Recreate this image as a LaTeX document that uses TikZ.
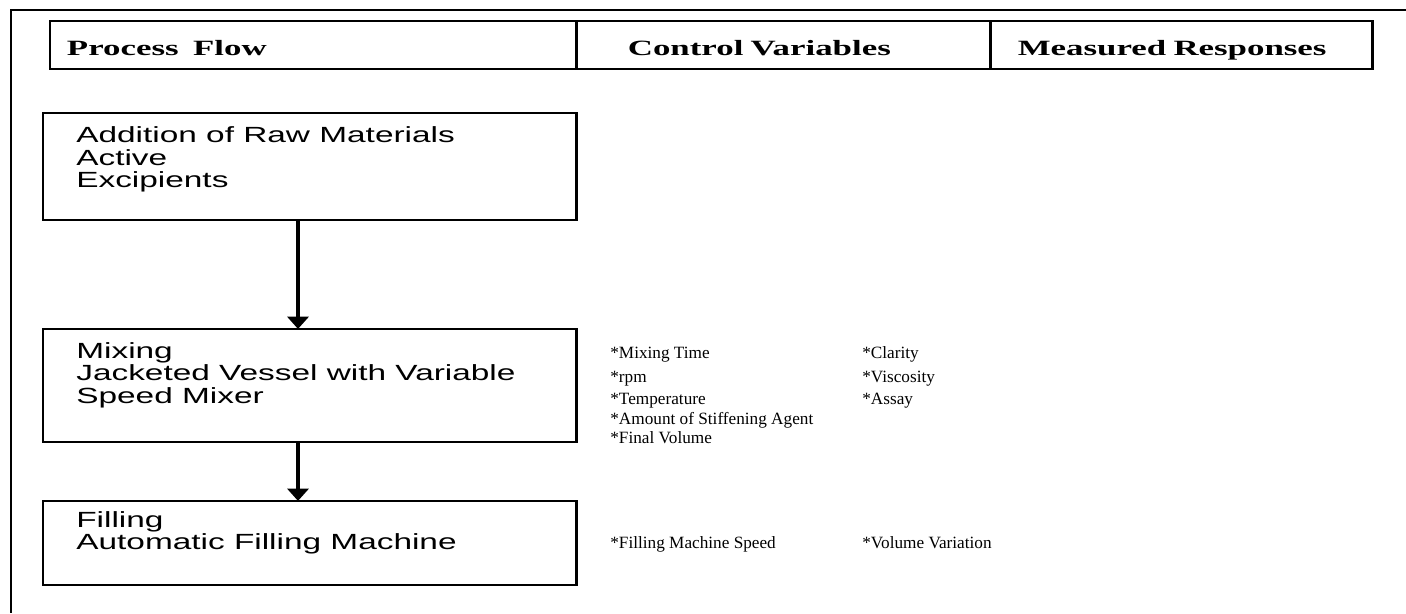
\documentclass[tikz,border=0pt]{standalone}
\usepackage{fontspec}
\setmainfont{Liberation Serif}
\newfontfamily\headfont{Liberation Serif}[FakeStretch=1.6]
\newfontfamily\stagefont{Liberation Sans}[FakeStretch=1.52]
\usetikzlibrary{positioning,arrows.meta}
\tikzset{
  frame/.style={line width=1.7pt},
  headcell/.style={draw, line width=1.6pt, outer sep=0pt, inner ysep=0pt, minimum height=0.96cm, align=left, text height=12pt, text depth=0pt, font=\headfont\bfseries\fontsize{12.4}{14}\selectfont},
  procbox/.style={draw, line width=1.6pt, outer sep=0pt, minimum width=10.68cm},
  boxtext/.style={inner sep=0pt, align=left, font=\stagefont\fontsize{12.5}{12.8}\selectfont},
  listtext/.style={inner sep=0pt, anchor=base west, font=\fontsize{9.8}{11}\selectfont},
  flow/.style={line width=1.8pt, -{Triangle[width=12pt,length=7pt]}}
}
\begin{document}
\begin{tikzpicture}[x=0.02cm, y=-0.02cm]
    \useasboundingbox (0,0) rectangle (1406,613);
    \draw[frame] (1406,10) -- (11,10) -- (11,613);
    % header row
    \node[headcell, anchor=north west, minimum width=10.54cm, inner xsep=0.34cm, text width=9.86cm] (hflow) at (50,21) {Process\ \ Flow};
    \node[headcell, right=0pt of hflow, minimum width=8.28cm, inner xsep=1.02cm, text width=6.24cm] (hctrl) {Control Variables};
    \node[headcell, right=0pt of hctrl, minimum width=7.64cm, inner xsep=0.54cm, text width=6.56cm] (hresp) {Measured Responses};
    % process steps
    \node[procbox, anchor=north west, minimum height=2.14cm] (add) at (43,113) {};
    \node[procbox, below=2.18cm of add, minimum height=2.26cm] (mix) {};
    \node[procbox, below=1.18cm of mix, minimum height=1.68cm] (fill) {};
    \node[boxtext, below right=0.27cm and 0.66cm of add.north west] (addtxt) {Addition of Raw Materials\\Active\\Excipients};
    \node[boxtext, below right=0.26cm and 0.66cm of mix.north west] (mixtxt) {Mixing\\Jacketed Vessel with Variable\\Speed Mixer};
    \node[boxtext, below right=0.2cm and 0.66cm of fill.north west] (filltxt) {Filling\\Automatic Filling Machine};
    \coordinate (ax) at (298,0);
    \draw[flow] (add.south -| ax) -- (mix.north -| ax);
    \draw[flow] (mix.south -| ax) -- (fill.north -| ax);
    % variables and responses
    \foreach \y/\txt [count=\i] in {358/*Mixing Time, 382/*rpm, 404/*Temperature, 424/*Amount of Stiffening Agent, 443/*Final Volume}
        \node[listtext] (ctrl\i) at (610,\y) {\txt};
    \foreach \y/\txt [count=\i] in {358/*Clarity, 382/*Viscosity, 404/*Assay}
        \node[listtext] (resp\i) at (862,\y) {\txt};
    \node[listtext] (ctrlfill) at (610,548) {*Filling Machine Speed};
    \node[listtext] (respfill) at (862,548) {*Volume Variation};
\end{tikzpicture}
\end{document}
